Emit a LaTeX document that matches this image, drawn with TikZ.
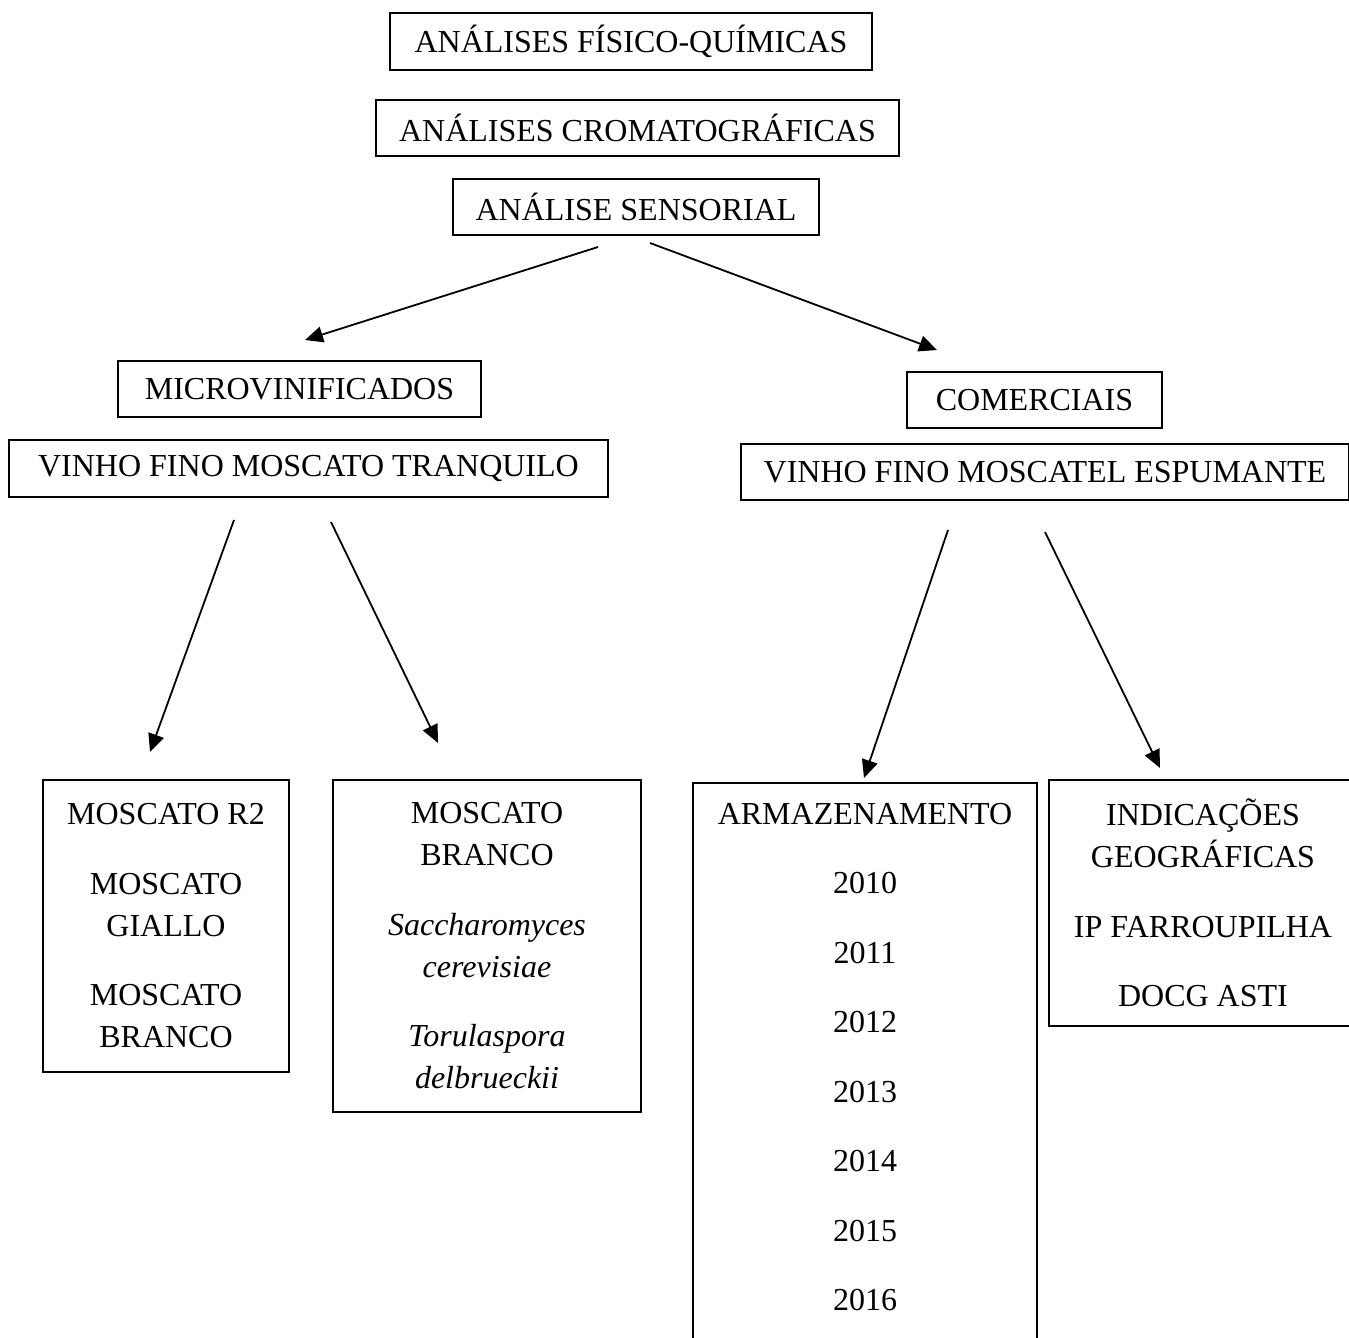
\documentclass[tikz,border=0pt]{standalone}
\usepackage{fontspec}
\setmainfont{Liberation Serif}
\usetikzlibrary{arrows.meta}
\newcommand{\groupsep}{\\[13.75pt]}

\begin{document}
\begin{tikzpicture}[
      x=0.5pt, y=-0.5pt,
      every node/.style={font=\fontsize{16}{21}\selectfont},
      box/.style={draw, line width=0.8pt, inner sep=0pt, align=center},
      link/.style={-{Triangle[length=9pt,width=8pt]}, line width=0.9pt}
    ]
      \useasboundingbox (0,0) rectangle (1349,1338);
      \clip (0,0) rectangle (1349,1338);

      % Draw the analysis boxes at the top
      \node[box, minimum width=241pt, minimum height=28.5pt] (fisq) at (631,41.5) {ANÁLISES FÍSICO-QUÍMICAS};
      \node[box, minimum width=261.5pt, minimum height=28pt] (croma) at (637.5,128) {ANÁLISES CROMATOGRÁFICAS};
      \node[box, minimum width=183pt, minimum height=28pt] (sens) at (636,207) {ANÁLISE SENSORIAL};

      % The two groups of wines
      \node[box, minimum width=181.5pt, minimum height=28pt] (micro) at (299.5,389) {MICROVINIFICADOS};
      \node[box, minimum width=299.5pt, minimum height=28.5pt] (tranq) at (308.5,468.5) {VINHO FINO MOSCATO TRANQUILO};
      \node[box, minimum width=127.5pt, minimum height=28pt] (comerc) at (1034.5,400) {COMERCIAIS};
      \node[box, minimum width=304pt, minimum height=28pt] (espum) at (1045,472) {VINHO FINO MOSCATEL ESPUMANTE};

      % Lists under each group
      \node[box, minimum width=123pt, minimum height=146pt] (cultivar) at (166,926)
        {MOSCATO R2\groupsep MOSCATO\\GIALLO\groupsep MOSCATO\\BRANCO};
      \node[box, minimum width=154pt, minimum height=166pt] (levedura) at (487,946)
        {MOSCATO\\BRANCO\groupsep \textit{Saccharomyces}\\\textit{cerevisiae}\groupsep
         \textit{Torulaspora}\\\textit{delbrueckii}};
      \node[box, anchor=north, minimum width=172pt, inner ysep=10pt] (armaz) at (865,782)
        {ARMAZENAMENTO\groupsep 2010\groupsep 2011\groupsep 2012\groupsep 2013\groupsep
         2014\groupsep 2015\groupsep 2016\\[30pt]\mbox{}};
      \node[box, minimum width=154pt, minimum height=123pt] (indic) at (1203,903)
        {INDICAÇÕES\\GEOGRÁFICAS\groupsep IP FARROUPILHA\groupsep DOCG ASTI};

      % Arrow ends
      \coordinate (s1) at (598,247);  \coordinate (e1) at (305,340);
      \coordinate (s2) at (650,243);  \coordinate (e2) at (937,350);
      \coordinate (s3) at (234,520);  \coordinate (e3) at (150,752);
      \coordinate (s4) at (331,522);  \coordinate (e4) at (438,743);
      \coordinate (s5) at (948,530);  \coordinate (e5) at (864,778);
      \coordinate (s6) at (1045,532); \coordinate (e6) at (1160,768);

      \foreach \i in {1,...,6}
        \draw[link] (s\i) -- (e\i);
    \end{tikzpicture}
\end{document}
